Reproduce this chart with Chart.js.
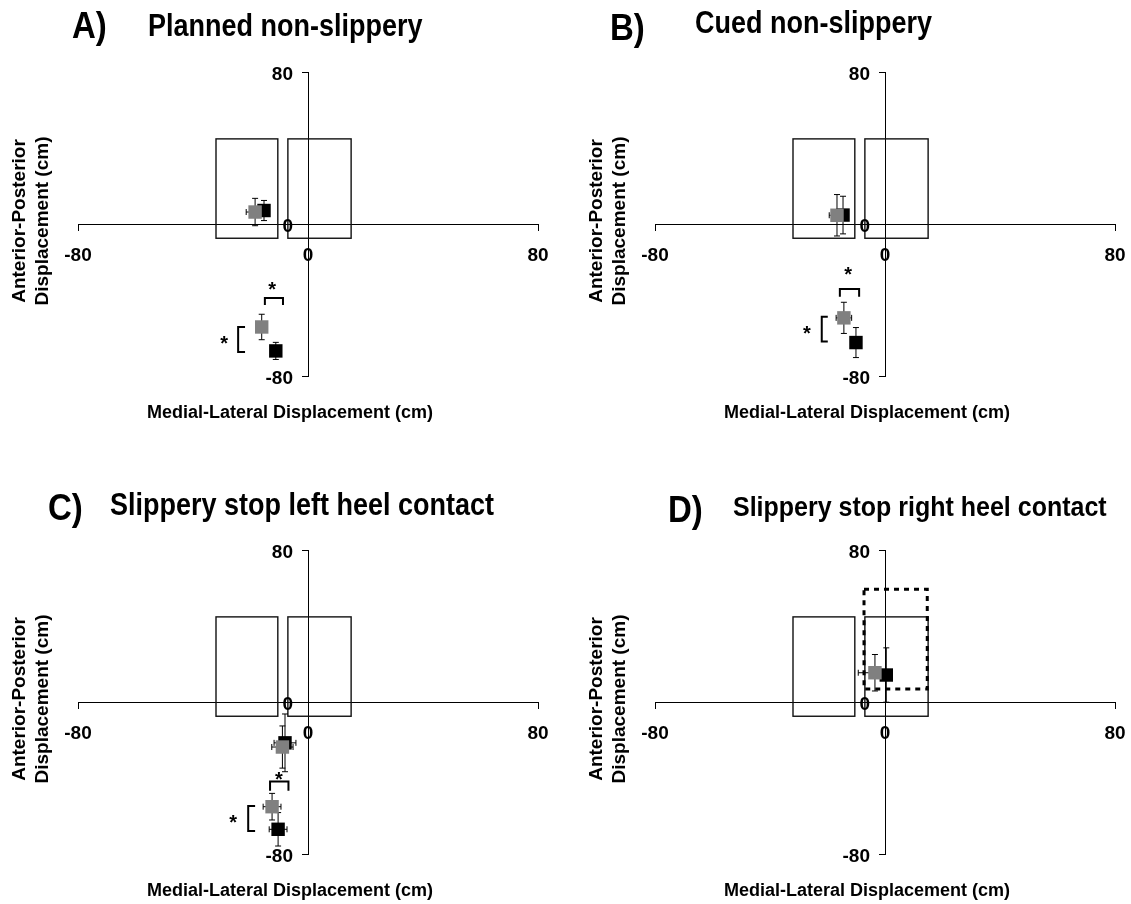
<!DOCTYPE html>
<html>
<head>
<meta charset="utf-8">
<script src="https://cdn.jsdelivr.net/npm/chart.js@4.4.1/dist/chart.umd.min.js"></script>
<style>
  html, body { margin: 0; padding: 0; background: #fff; }
  #page { position: relative; width: 1131px; height: 904px; overflow: hidden;
          font-family: "Liberation Sans", Arial, sans-serif; font-weight: bold; color: #000; }
  .panel { position: absolute; }
  .txt { position: absolute; white-space: nowrap; }
  .ytitle { position: absolute; text-align: center; white-space: nowrap; transform: rotate(-90deg); }
</style>
</head>
<body>
<div id="page"></div>
<script>
// ---- Axis setup (cm) ----
const axisTicks = [-80, 0, 80];

// ---- Foot outlines: [ML left, ML right, AP bottom, AP top] (cm) ----
const leftFoot = [-32, -10.5, -7.5, 44.8];
const rightFoot = [-7, 15, -7.5, 44.8];
// Dashed region around the right foot (panel D)
const dashedBoxD = [-7.3, 14.7, 6.8, 59.3];

// ---- Panel text ----
const panelLetters = ['A)', 'B)', 'C)', 'D)'];
const panelTitles = ['Planned non-slippery', 'Cued non-slippery',
                     'Slippery stop left heel contact', 'Slippery stop right heel contact'];
const xAxisTitle = 'Medial-Lateral Displacement (cm)';
const yAxisTitle = ['Anterior-Posterior', 'Displacement (cm)'];

// ---- Means [ML, AP] and SD [ML, AP] (cm); grey and black groups ----
const grayA = [[-18.4, 6.3], [-16.1, -54.2]];
const grayErrA = [[3.1, 7.2], [0, 6.7]];
const blackA = [[-15.3, 7.1], [-11.2, -66.8]];
const blackErrA = [[0, 5.3], [0, 4.5]];

const grayB = [[-16.7, 4.6], [-14.3, -49.4]];
const grayErrB = [[2.7, 10.9], [2.7, 8.2]];
const blackB = [[-14.6, 4.7], [-10.1, -62.4]];
const blackErrB = [[0, 9.9], [0, 7.9]];

const grayC = [[-8.9, -23.7], [-12.5, -55.1]];
const grayErrC = [[3.7, 11.1], [3.1, 7.0]];
const blackC = [[-8.0, -21.5], [-10.4, -67.0]];
const blackErrC = [[3.8, 15.2], [3.1, 8.8]];

const grayD = [[-3.5, 15.4]];
const grayErrD = [[5.8, 9.6]];
const blackD = [[0.45, 14.2]];
const blackErrD = [[1.5, 14.3]];

// ---- Significance brackets ----
// horizontal: [x1, x2, y of bar, y of legs]; vertical: [x of bar, x of legs, y1, y2]
const hBracketA = [-15, -8.7, -38.9, -42.6];
const vBracketA = [-24.3, -21.9, -54.2, -67.4];
const starsA = [[-12.5, -32.1], [-29.2, -60.5]];

const hBracketB = [-15.7, -9.0, -34.2, -38.3];
const vBracketB = [-22.0, -19.9, -48.8, -61.9];
const starsB = [[-12.8, -24.2], [-27.2, -55.3]];

const hBracketC = [-13.2, -6.8, -41.9, -46.7];
const vBracketC = [-20.8, -18.4, -54.7, -67.9];
const starsC = [[-10.1, -38.4], [-26.0, -60.7]];

// ---- Panel table built from the arrays above ----
const panels = [
  { gray: grayA, grayErr: grayErrA, black: blackA, blackErr: blackErrA,
    hBracket: hBracketA, vBracket: vBracketA, stars: starsA, box: null },
  { gray: grayB, grayErr: grayErrB, black: blackB, blackErr: blackErrB,
    hBracket: hBracketB, vBracket: vBracketB, stars: starsB, box: null },
  { gray: grayC, grayErr: grayErrC, black: blackC, blackErr: blackErrC,
    hBracket: hBracketC, vBracket: vBracketC, stars: starsC, box: null },
  { gray: grayD, grayErr: grayErrD, black: blackD, blackErr: blackErrD,
    hBracket: null, vBracket: null, stars: [], box: dashedBoxD }
];

// ---- Layout (page pixels) ----
const PAGE_W = 1131;
const origins = [[0, 0], [577, 0], [0, 478], [577, 478]];
const PANEL_H = 470;
const AREA = { left: 78, right: 538, top: 72, bottom: 376 };
const FONT = '"Liberation Sans", Arial, sans-serif';

const letterPos = [[72, 38], [610, 39.5], [48, 520], [668, 522]];
const titlePos = [[148, 37, 27], [695, 33.5, 27], [110, 516, 27], [733, 516, 25]];

const page = document.getElementById('page');

function addText(txt, left, baseline, fs, stretch, center) {
  const d = document.createElement('div');
  d.className = 'txt';
  d.textContent = txt;
  d.style.fontSize = fs + 'px';
  d.style.lineHeight = fs + 'px';
  d.style.left = left + 'px';
  d.style.top = (baseline - 0.8465 * fs) + 'px';
  const parts = [];
  if (center) parts.push('translateX(-50%)');
  if (stretch) parts.push('scaleY(' + stretch + ')');
  if (parts.length) {
    d.style.transform = parts.join(' ');
    d.style.transformOrigin = '0 ' + (0.8465 * fs) + 'px';
  }
  page.appendChild(d);
}

const overlay = {
  id: 'footOverlay',
  beforeDatasetsDraw(chart, args, opts) {
    const p = opts.panel;
    const { ctx, scales: { x, y } } = chart;
    ctx.save();
    // foot outlines
    ctx.strokeStyle = '#111';
    ctx.lineWidth = 1.4;
    [leftFoot, rightFoot].forEach(f => {
      const x1 = x.getPixelForValue(f[0]), x2 = x.getPixelForValue(f[1]);
      const y1 = y.getPixelForValue(f[3]), y2 = y.getPixelForValue(f[2]);
      ctx.strokeRect(x1, y1, x2 - x1, y2 - y1);
    });
    if (p.box) {
      const b = p.box;
      const x1 = x.getPixelForValue(b[0]), x2 = x.getPixelForValue(b[1]);
      const y1 = y.getPixelForValue(b[3]), y2 = y.getPixelForValue(b[2]);
      ctx.save();
      ctx.strokeStyle = '#000';
      ctx.lineWidth = 3;
      ctx.setLineDash([5, 5]);
      ctx.strokeRect(x1, y1, x2 - x1, y2 - y1);
      ctx.restore();
    }
    // error bars (drawn under the markers)
    ctx.strokeStyle = '#000';
    ctx.lineWidth = 1;
    const cap = 3;
    const bars = (pts, errs) => pts.forEach((pt, i) => {
      const e = errs[i];
      const cx = x.getPixelForValue(pt[0]), cy = y.getPixelForValue(pt[1]);
      ctx.beginPath();
      if (e[1] > 0) {
        const t = y.getPixelForValue(pt[1] + e[1]), b = y.getPixelForValue(pt[1] - e[1]);
        ctx.moveTo(cx, t); ctx.lineTo(cx, b);
        ctx.moveTo(cx - cap, t); ctx.lineTo(cx + cap, t);
        ctx.moveTo(cx - cap, b); ctx.lineTo(cx + cap, b);
      }
      if (e[0] > 0) {
        const l = x.getPixelForValue(pt[0] - e[0]), r = x.getPixelForValue(pt[0] + e[0]);
        ctx.moveTo(l, cy); ctx.lineTo(r, cy);
        ctx.moveTo(l, cy - cap); ctx.lineTo(l, cy + cap);
        ctx.moveTo(r, cy - cap); ctx.lineTo(r, cy + cap);
      }
      ctx.stroke();
    });
    bars(p.black, p.blackErr);
    bars(p.gray, p.grayErr);
    ctx.restore();
  },
  afterDraw(chart, args, opts) {
    const p = opts.panel;
    const { ctx, scales: { x, y } } = chart;
    ctx.save();
    // significance brackets
    ctx.strokeStyle = '#000';
    ctx.lineWidth = 2;
    if (p.hBracket) {
      const h = p.hBracket;
      const x1 = x.getPixelForValue(h[0]), x2 = x.getPixelForValue(h[1]);
      const yb = y.getPixelForValue(h[2]), yl = y.getPixelForValue(h[3]);
      ctx.beginPath();
      ctx.moveTo(x1, yl); ctx.lineTo(x1, yb); ctx.lineTo(x2, yb); ctx.lineTo(x2, yl);
      ctx.stroke();
    }
    if (p.vBracket) {
      const v = p.vBracket;
      const xb = x.getPixelForValue(v[0]), xl = x.getPixelForValue(v[1]);
      const y1 = y.getPixelForValue(v[2]), y2 = y.getPixelForValue(v[3]);
      ctx.beginPath();
      ctx.moveTo(xl, y1); ctx.lineTo(xb, y1); ctx.lineTo(xb, y2); ctx.lineTo(xl, y2);
      ctx.stroke();
    }
    ctx.fillStyle = '#000';
    ctx.textAlign = 'center';
    ctx.textBaseline = 'alphabetic';
    const sfs = 20;
    ctx.font = 'bold ' + sfs + 'px ' + FONT;
    p.stars.forEach(s => {
      ctx.fillText('*', x.getPixelForValue(s[0]), y.getPixelForValue(s[1]) + 0.57 * sfs);
    });
    // tick labels
    const fs = 19;
    ctx.font = 'bold ' + fs + 'px ' + FONT;
    const x0 = x.getPixelForValue(0), y0 = y.getPixelForValue(0);
    ctx.textAlign = 'center';
    axisTicks.forEach(v => ctx.fillText(String(v), x.getPixelForValue(v), y0 + 30 + 0.358 * fs));
    ctx.textAlign = 'right';
    axisTicks.forEach(v => ctx.fillText(String(v), x0 - 15, y.getPixelForValue(v) + 1.5 + 0.358 * fs));
    ctx.restore();
  }
};

panels.forEach((p, i) => {
  const [ox, oy] = origins[i];
  const w = Math.min(570, PAGE_W - ox);
  const holder = document.createElement('div');
  holder.className = 'panel';
  holder.style.left = ox + 'px';
  holder.style.top = oy + 'px';
  holder.style.width = w + 'px';
  holder.style.height = PANEL_H + 'px';
  const cv = document.createElement('canvas');
  cv.width = w; cv.height = PANEL_H;
  cv.style.width = w + 'px'; cv.style.height = PANEL_H + 'px';
  holder.appendChild(cv);
  page.appendChild(holder);

  const axisStyle = {
    type: 'linear', min: axisTicks[0], max: axisTicks[axisTicks.length - 1],
    ticks: { display: false, stepSize: 80 },
    grid: { drawOnChartArea: false, drawTicks: true, tickLength: 6, color: '#000', lineWidth: 1 },
    border: { display: true, color: '#000', width: 1 }
  };

  new Chart(cv, {
    type: 'scatter',
    data: {
      datasets: [
        { label: 'grey', data: p.gray.map(([mx, my]) => ({ x: mx, y: my })),
          backgroundColor: '#808080', borderWidth: 0, pointStyle: 'rect', pointRadius: 9.5 },
        { label: 'black', data: p.black.map(([mx, my]) => ({ x: mx, y: my })),
          backgroundColor: '#000000', borderWidth: 0, pointStyle: 'rect', pointRadius: 9.5 }
      ]
    },
    options: {
      responsive: false,
      animation: false,
      events: [],
      layout: { padding: { left: AREA.left, right: w - AREA.right, top: AREA.top, bottom: PANEL_H - AREA.bottom } },
      plugins: { legend: { display: false }, tooltip: { enabled: false }, footOverlay: { panel: p } },
      scales: {
        x: Object.assign({}, axisStyle, { position: { y: 0 }, afterFit: s => { s.height = 0; } }),
        y: Object.assign({}, axisStyle, { position: { x: 0 }, afterFit: s => { s.width = 0; } })
      }
    },
    plugins: [overlay]
  });

  // panel letter and title
  addText(panelLetters[i], letterPos[i][0], letterPos[i][1], 33, 1.13, false);
  addText(panelTitles[i], titlePos[i][0], titlePos[i][1], titlePos[i][2], 1.13, false);
  // axis titles
  addText(xAxisTitle, ox + 290, oy + 418, 18, 0, true);
  const yt = document.createElement('div');
  yt.className = 'ytitle';
  yt.style.fontSize = '19px';
  yt.style.lineHeight = '23px';
  yt.style.width = '240px';
  yt.style.height = '46px';
  yt.style.left = (ox + 30 - 120) + 'px';
  yt.style.top = (oy + 221 - 23) + 'px';
  yt.innerHTML = yAxisTitle[0] + '<br>' + yAxisTitle[1];
  page.appendChild(yt);
});
</script>
</body>
</html>
